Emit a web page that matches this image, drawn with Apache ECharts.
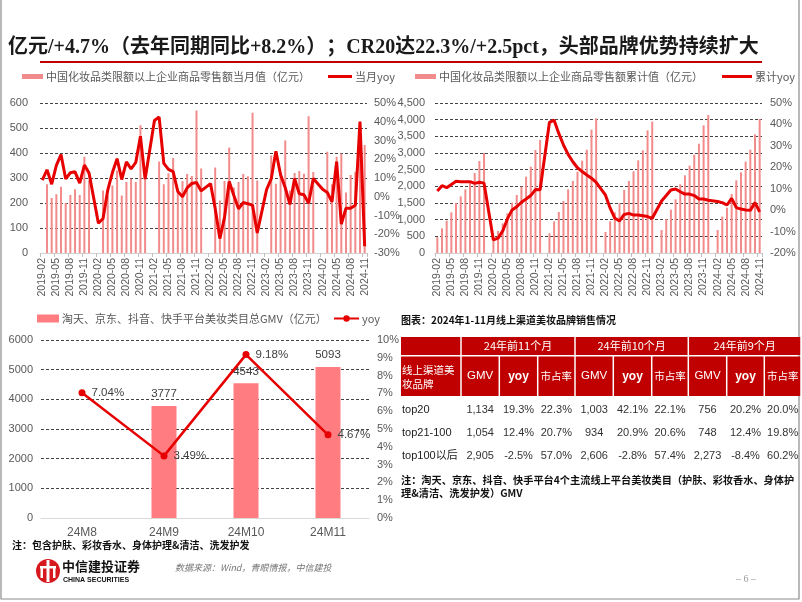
<!DOCTYPE html>
<html><head><meta charset="utf-8">
<script src="https://cdn.jsdelivr.net/npm/echarts@6/dist/echarts.min.js"></script>
<style>html,body{margin:0;padding:0;background:#fff}#c{width:802px;height:602px}</style>
</head><body><div id="c"></div>
<script>
// ---------- DATA ----------
const months = [
 '2019-02','2019-03','2019-04','2019-05','2019-06','2019-07','2019-08','2019-09','2019-10','2019-11','2019-12',
 '2020-01','2020-02','2020-03','2020-04','2020-05','2020-06','2020-07','2020-08','2020-09','2020-10','2020-11','2020-12',
 '2021-01','2021-02','2021-03','2021-04','2021-05','2021-06','2021-07','2021-08','2021-09','2021-10','2021-11','2021-12',
 '2022-01','2022-02','2022-03','2022-04','2022-05','2022-06','2022-07','2022-08','2022-09','2022-10','2022-11','2022-12',
 '2023-01','2023-02','2023-03','2023-04','2023-05','2023-06','2023-07','2023-08','2023-09','2023-10','2023-11','2023-12',
 '2024-01','2024-02','2024-03','2024-04','2024-05','2024-06','2024-07','2024-08','2024-09','2024-10','2024-11'];
// monthly retail sales (亿元)
const monthlySales = [
 null,275,220,235,265,200,232,255,232,385,290,
 null,null,250,229,270,330,230,284,297,284,511,310,
 null,null,366,275,319,380,250,288,316,308,570,338,
 null,null,342,210,288,422,262,284,316,307,561,290,
 null,null,390,277,322,450,250,320,328,317,547,324,
 null,null,405,275,385,398,242,312,325,445,432];
// monthly yoy (%)
const monthlyYoy = [
 8.9,14.4,6.7,16.7,22.5,9.5,12.8,13.3,7.3,16.9,12.6,
 null,-14.1,-11.6,3.5,12.9,20.3,9.2,18.6,14.8,18.3,32.3,9.4,
 null,40.7,42.5,17.8,14.6,13.4,2.8,0.0,4.7,7.1,7.6,3.1,
 null,7.0,-6.3,-22.3,-11.0,8.1,0.7,-6.4,-3.1,-3.7,-4.6,-19.3,
 null,3.8,9.6,24.3,11.7,4.8,-4.1,9.7,1.6,1.1,-3.5,9.7,
 null,4.0,2.3,-2.7,18.7,-14.6,-6.1,-6.1,-4.5,40.1,-26.4];
// cumulative retail sales (亿元)
const cumSales = [
 475,740,970,1220,1500,1700,1910,2150,2400,2760,3000,
 null,420,660,890,1190,1510,1740,1990,2290,2590,3090,3390,
 null,590,950,1230,1560,1910,2160,2440,2770,3100,3700,4040,
 null,630,950,1220,1490,1890,2160,2450,2780,3080,3680,3940,
 null,690,1020,1300,1610,2060,2330,2620,2950,3280,3830,4140,
 null,690,1090,1360,1770,2180,2420,2740,3100,3560,4020];
// cumulative yoy (%)
const cumYoy = [
 8.9,11.4,10.5,12.0,13.5,13.3,13.3,13.3,12.5,13.0,12.6,
 null,-13.9,-13.1,-9.7,-4.1,0.1,1.6,3.7,5.2,6.8,9.6,9.5,
 null,41.0,42.0,35.8,30.4,26.0,22.6,19.8,18.0,16.4,14.9,13.0,
 null,7.0,0.9,-3.8,-5.0,-2.0,-1.5,-2.3,-2.3,-2.6,-3.0,-3.8,
 null,4.3,6.8,9.4,9.9,8.6,7.5,7.5,6.8,5.2,5.2,4.6,
 null,4.0,3.5,2.4,5.5,1.2,0.5,0.1,-0.1,3.5,-0.8];
// platform GMV
const gmvCats = ['24M8','24M9','24M10','24M11'];
const gmvValues = [null,3777,4543,5093];
const gmvYoy = [7.04,3.49,9.18,4.67];
// table
const tableTitle = '图表：2024年1-11月线上渠道美妆品牌销售情况';
const tablePeriods = ['24年前11个月','24年前10个月','24年前9个月'];
const tableMetrics = ['GMV','yoy','市占率'];
const tableCorner = ['线上渠道美','妆品牌'];
const tableRows = ['top20','top21-100','top100以后'];
const tableValues = [
 ['1,134','19.3%','22.3%','1,003','42.1%','22.1%','756','20.2%','20.0%'],
 ['1,054','12.4%','20.7%','934','20.9%','20.6%','748','12.4%','19.8%'],
 ['2,905','-2.5%','57.0%','2,606','-2.8%','57.4%','2,273','-8.4%','60.2%']];
const titleText = '亿元/+4.7%（去年同期同比+8.2%）；CR20达22.3%/+2.5pct，头部品牌优势持续扩大';
const noteLeft = '注：包含护肤、彩妆香水、身体护理&清洁、洗发护发';
const noteRight = ['注：淘天、京东、抖音、快手平台4个主流线上平台美妆类目（护肤、彩妆香水、身体护','理&清洁、洗发护发）GMV'];
const sourceText = '数据来源：Wind，青眼情报，中信建投';
const names = {
  mBar:'中国化妆品类限额以上企业商品零售额当月值（亿元）', mLine:'当月yoy',
  cBar:'中国化妆品类限额以上企业商品零售额累计值（亿元）', cLine:'累计yoy',
  gBar:'淘天、京东、抖音、快手平台美妆类目总GMV（亿元）', gLine:'yoy'};

// ---------- STYLE ----------
const RED='#E60000', BAR='#F28B8B', GMV='#FF7C80', TXT='#595959';
const FONT='"Liberation Sans","Noto Sans CJK SC",sans-serif';
const CJK='"Noto Sans CJK SC","Liberation Sans",sans-serif';
const split={show:true,lineStyle:{color:'#444',type:[3,2],width:1}};
const axL = {fontSize:11,color:TXT,fontFamily:FONT};

function yAx(grid,min,max,interval,fmt,showSplit,margin){
  return {type:'value',gridIndex:grid,min,max,interval,
    axisLine:{show:false},axisTick:{show:false},
    splitLine:showSplit?split:{show:false},
    axisLabel:Object.assign({formatter:fmt,margin},axL)};
}
const xCat=(grid,data)=>({type:'category',gridIndex:grid,data,
  axisLine:{lineStyle:{color:'#D0D0D0'}},
  axisTick:{show:true,interval:2,length:4,lineStyle:{color:'#BFBFBF'}},
  axisLabel:Object.assign({rotate:90,interval:2,margin:5},axL,{fontSize:10.5})});

function leg(name,left,top,icon,w,h){
  const o={data:[name],left,top,itemWidth:w,itemHeight:h,itemGap:0,padding:0,
    textStyle:{fontSize:11,color:TXT,fontFamily:CJK,padding:[0,0,0,-2]}};
  if(icon) o.icon=icon;
  return o;
}
const pct=v=>v+'%';
const plain=v=>String(v);

// ---------- GRAPHICS ----------
const g=[];
g.push({type:'polyline',shape:{points:[[1,0],[1,599],[799,599],[799,0]]},style:{stroke:'#8c8c8c',lineWidth:1.2,fill:null}});
g.push({type:'text',style:{text:titleText,x:8,y:48,textVerticalAlign:'middle',fill:'#1a1a1a',
  font:'bold 20px "Liberation Serif","Noto Sans CJK SC",serif'}});
g.push({type:'line',shape:{x1:40,y1:62,x2:762,y2:62},style:{stroke:'#C00000',lineWidth:2}});
// table
const colX=[401,461,499.3,537.7,575,613.3,651.7,688.3,726.7,764.3,801];
const hdr='#C00000';
g.push({type:'text',style:{text:tableTitle,x:401,y:320,textVerticalAlign:'middle',fill:'#111',font:'bold 10px '+CJK}});
const r1y=337,r1h=18,r2y=356.5,r2h=39.5;
const cell=(x1,x2,y,h)=>({type:'rect',shape:{x:x1+0.75,y,width:x2-x1-1.5,height:h},style:{fill:hdr}});
g.push(cell(colX[0]-0.75,colX[1],r1y,r1h));
for(let k=0;k<3;k++){
  const a=colX[1+3*k],b=colX[4+3*k];
  g.push(cell(a,b,r1y,r1h));
  g.push({type:'text',style:{text:tablePeriods[k],x:(a+b)/2,y:r1y+r1h/2,textAlign:'center',textVerticalAlign:'middle',fill:'#fff',font:'11px '+CJK}});
}
g.push(cell(colX[0]-0.75,colX[1],r2y,r2h));
g.push({type:'text',style:{text:tableCorner[0],x:402,y:370,textVerticalAlign:'middle',fill:'#fff',font:'10.5px '+CJK}});
g.push({type:'text',style:{text:tableCorner[1],x:402,y:384,textVerticalAlign:'middle',fill:'#fff',font:'10.5px '+CJK}});
for(let c=1;c<10;c++){
  g.push(cell(colX[c],colX[c+1],r2y,r2h));
  const m=tableMetrics[(c-1)%3];
  g.push({type:'text',style:{text:m,x:(colX[c]+colX[c+1])/2,y:r2y+r2h/2,textAlign:'center',textVerticalAlign:'middle',fill:'#fff',
    font:(m==='yoy'?'bold 12px '+FONT:(m==='GMV'?'11.5px '+FONT:'10.5px '+CJK))}});
}
const rowY=[410,433,456];
for(let r=0;r<3;r++){
  g.push({type:'text',style:{text:tableRows[r],x:402,y:rowY[r],textVerticalAlign:'middle',fill:'#222',font:'11px '+FONT}});
  for(let c=0;c<9;c++){
    g.push({type:'text',style:{text:tableValues[r][c],x:(colX[c+1]+colX[c+2])/2,y:rowY[r],textAlign:'center',textVerticalAlign:'middle',fill:'#333',font:'11px '+FONT}});
  }
}
g.push({type:'text',style:{text:noteRight[0],x:401,y:480,textVerticalAlign:'middle',fill:'#111',font:'bold 10.2px '+CJK}});
g.push({type:'text',style:{text:noteRight[1],x:401,y:493.5,textVerticalAlign:'middle',fill:'#111',font:'bold 10.2px '+CJK}});
g.push({type:'text',style:{text:noteLeft,x:12,y:545,textVerticalAlign:'middle',fill:'#111',font:'bold 10px '+CJK}});
// footer logo
g.push({type:'circle',shape:{cx:48,cy:571,r:12},style:{fill:'#D7191F'}});
g.push({type:'rect',shape:{x:46.5,y:560,width:3,height:22},style:{fill:'#fff'}});
g.push({type:'rect',shape:{x:40,y:566,width:16,height:2.5},style:{fill:'#fff'}});
g.push({type:'rect',shape:{x:40.5,y:566,width:2.5,height:12},style:{fill:'#fff'}});
g.push({type:'rect',shape:{x:53,y:566,width:2.5,height:12},style:{fill:'#fff'}});
g.push({type:'text',style:{text:'中信建投证券',x:62,y:566,textVerticalAlign:'middle',fill:'#111',font:'bold 13px '+CJK}});
g.push({type:'text',style:{text:'CHINA SECURITIES',x:63,y:580,textVerticalAlign:'middle',fill:'#111',font:'bold 7px '+FONT}});
g.push({type:'text',style:{text:sourceText,x:175,y:568,textVerticalAlign:'middle',fill:'#777',font:'italic 9px '+CJK}});
g.push({type:'text',style:{text:'– 6 –',x:746,y:579,textAlign:'center',textVerticalAlign:'middle',fill:'#999',font:'10px "Liberation Serif",serif'}});

// ---------- OPTION ----------
const option={
  animation:false,
  backgroundColor:'#fff',
  textStyle:{fontFamily:FONT},
  grid:[
    {left:40,top:103,width:327,height:150},
    {left:435,top:103,width:327,height:150},
    {left:41,top:340,width:328,height:178}
  ],
  legend:[
    leg(names.mBar,22,71,'rect',21,5),
    leg(names.mLine,328,71,'rect',24,3),
    leg(names.cBar,415,71,'rect',21,5),
    leg(names.cLine,722,71,'rect',30,3),
    leg(names.gBar,37,313,'rect',22,8),
    leg(names.gLine,333,313,null,25,8)
  ],
  xAxis:[
    xCat(0,months),
    xCat(1,months),
    {type:'category',gridIndex:2,data:gmvCats,axisLine:{lineStyle:{color:'#D9D9D9'}},axisTick:{show:false},
      axisLabel:Object.assign({margin:9},axL,{fontSize:12})}
  ],
  yAxis:[
    yAx(0,0,600,100,plain,true,12),
    yAx(0,-30,50,10,pct,false,7),
    yAx(1,0,4500,500,v=>v.toLocaleString('en-US'),true,10),
    yAx(1,-20,50,10,pct,false,8),
    yAx(2,0,6000,1000,plain,true,8),
    yAx(2,0,10,1,pct,false,8)
  ],
  series:[
    {name:names.mBar,type:'bar',xAxisIndex:0,yAxisIndex:0,data:monthlySales,barWidth:2,itemStyle:{color:BAR}},
    {name:names.mLine,type:'line',xAxisIndex:0,yAxisIndex:1,data:monthlyYoy,connectNulls:true,symbol:'none',
      lineStyle:{color:RED,width:3},itemStyle:{color:RED}},
    {name:names.cBar,type:'bar',xAxisIndex:1,yAxisIndex:2,data:cumSales,barWidth:2,itemStyle:{color:BAR}},
    {name:names.cLine,type:'line',xAxisIndex:1,yAxisIndex:3,data:cumYoy,connectNulls:true,symbol:'none',
      lineStyle:{color:RED,width:3},itemStyle:{color:RED}},
    {name:names.gBar,type:'bar',xAxisIndex:2,yAxisIndex:4,data:gmvValues,barWidth:25,itemStyle:{color:GMV},
      label:{show:true,position:'top',distance:6,color:'#404040',fontSize:11.5,fontFamily:FONT}},
    {name:names.gLine,type:'line',xAxisIndex:2,yAxisIndex:5,data:gmvYoy,symbol:'circle',symbolSize:7,
      lineStyle:{color:RED,width:2.5},itemStyle:{color:RED},
      label:{show:true,position:'right',distance:6,color:'#404040',fontSize:11.5,fontFamily:FONT,
        formatter:p=>p.value.toFixed(2)+'%'}}
  ],
  graphic:{elements:g}
};
const chart=echarts.init(document.getElementById('c'),null,{renderer:'canvas'});
chart.setOption(option);
</script></body></html>
